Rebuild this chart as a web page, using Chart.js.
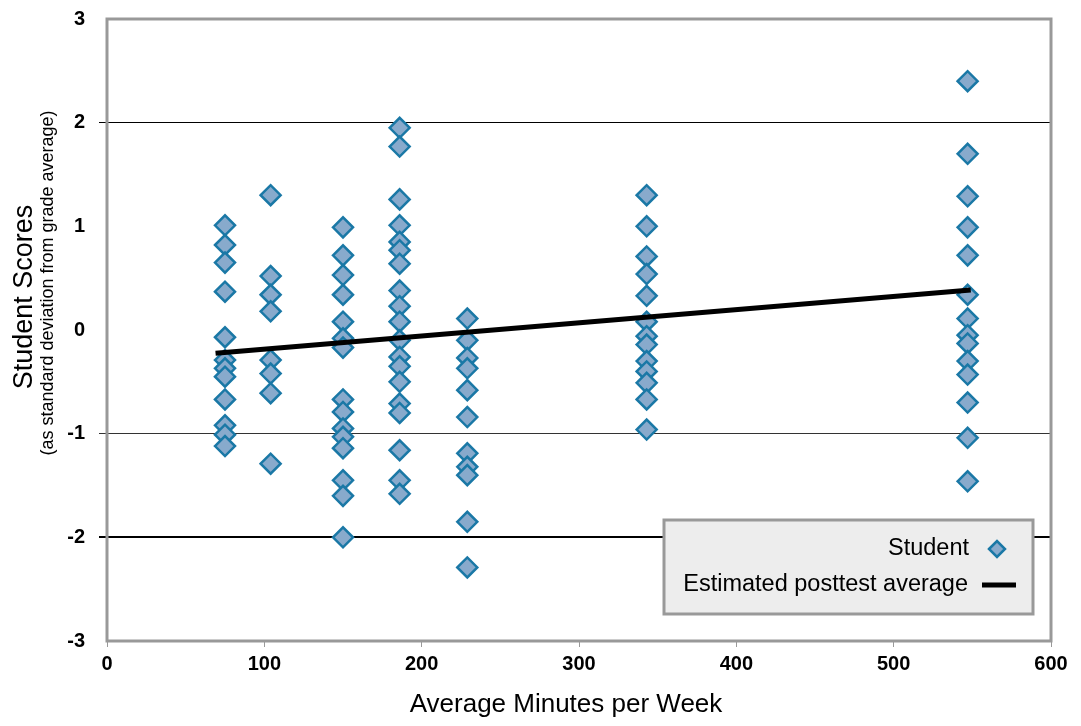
<!DOCTYPE html>
<html>
<head>
<meta charset="utf-8">
<script src="https://cdn.jsdelivr.net/npm/chart.js@4/dist/chart.umd.min.js"></script>
<style>
    html, body { margin: 0; padding: 0; background: #fff; }
    #wrap { width: 1081px; height: 726px; position: relative; }
</style>
</head>
<body>
<div id="wrap"><canvas id="chart" width="1081" height="726"></canvas></div>
<script>
// x positions of each column (average minutes per week)
const minutes = [75, 104, 150, 186, 229, 343, 547];

// student scores per column
const scores75 = [1.01, 0.82, 0.65, 0.37, -0.07, -0.29, -0.37, -0.45, -0.67, -0.92, -1.01, -1.12];
const scores104 = [1.30, 0.52, 0.34, 0.18, -0.29, -0.42, -0.61, -1.29];
const scores150 = [0.99, 0.72, 0.53, 0.34, 0.08, -0.08, -0.17, -0.67, -0.79, -0.95, -1.03, -1.14, -1.45, -1.60, -2.00];
const scores186 = [1.95, 1.77, 1.26, 1.01, 0.85, 0.77, 0.64, 0.38, 0.23, 0.08, -0.10, -0.26, -0.35, -0.50, -0.71, -0.80, -1.16, -1.45, -1.58];
const scores229 = [0.11, -0.10, -0.27, -0.37, -0.58, -0.84, -1.19, -1.32, -1.40, -1.85, -2.29];
const scores343 = [1.30, 1.00, 0.71, 0.54, 0.33, 0.08, -0.06, -0.14, -0.30, -0.40, -0.51, -0.67, -0.96];
const scores547 = [2.40, 1.70, 1.29, 0.99, 0.72, 0.34, 0.11, -0.05, -0.13, -0.30, -0.43, -0.70, -1.04, -1.46];
const columns = [scores75, scores104, scores150, scores186, scores229, scores343, scores547];

// estimated posttest average (regression line end points)
const trendX = [69, 549];
const trendY = [-0.225, 0.386];

const xTicks = [0, 100, 200, 300, 400, 500, 600];
const yTicks = [-3, -2, -1, 0, 1, 2, 3];

const studentPoints = [];
columns.forEach((col, i) => col.forEach(v => studentPoints.push({ x: minutes[i], y: v })));
const trendPoints = trendX.map((x, i) => ({ x, y: trendY[i] }));

const FONT = "'Liberation Sans', Arial, sans-serif";
const MARK_FILL = '#88aacc';
const MARK_LINE = '#1a78a6';

const gridColor = (ctx) => {
    const v = ctx.tick && ctx.tick.value;
    if (v === 2 || v === -2) return '#000';
    if (v === -1) return '#333';
    return 'rgba(0,0,0,0)';
};

const frame = {
    id: 'frame',
    beforeDatasetsDraw(chart) {
        const { ctx, chartArea: a } = chart;
        ctx.save();
        ctx.strokeStyle = '#999';
        ctx.lineWidth = 3;
        ctx.strokeRect(a.left, a.top, a.right - a.left, a.bottom - a.top);
        ctx.restore();
    },
    afterDraw(chart) {
        const { ctx } = chart;
        ctx.save();

        // axis titles
        ctx.fillStyle = '#000';
        ctx.textAlign = 'center';
        ctx.textBaseline = 'middle';
        ctx.font = '26px ' + FONT;
        ctx.fillText('Average Minutes per Week', 566, 705);

        ctx.save();
        ctx.translate(25, 297);
        ctx.rotate(-Math.PI / 2);
        ctx.font = '27px ' + FONT;
        ctx.fillText('Student Scores', 0, 0);
        ctx.restore();

        ctx.save();
        ctx.translate(48, 283);
        ctx.rotate(-Math.PI / 2);
        ctx.font = '18px ' + FONT;
        ctx.fillText('(as standard deviation from grade average)', 0, 0);
        ctx.restore();

        // legend box
        ctx.fillStyle = '#ededed';
        ctx.fillRect(664, 520, 369, 94);
        ctx.strokeStyle = '#999';
        ctx.lineWidth = 3;
        ctx.strokeRect(664, 520, 369, 94);

        ctx.fillStyle = '#000';
        ctx.font = '23.5px ' + FONT;
        ctx.textAlign = 'right';
        ctx.fillText('Student', 969, 549);
        ctx.fillText('Estimated posttest average', 968, 585);

        ctx.beginPath();
        ctx.moveTo(989, 549);
        ctx.lineTo(997, 541);
        ctx.lineTo(1005, 549);
        ctx.lineTo(997, 557);
        ctx.closePath();
        ctx.fillStyle = MARK_FILL;
        ctx.fill();
        ctx.strokeStyle = MARK_LINE;
        ctx.lineWidth = 2.5;
        ctx.stroke();

        ctx.beginPath();
        ctx.moveTo(982, 585);
        ctx.lineTo(1016, 585);
        ctx.strokeStyle = '#000';
        ctx.lineWidth = 5;
        ctx.stroke();

        ctx.restore();
    }
};

new Chart(document.getElementById('chart'), {
    type: 'scatter',
    data: {
        datasets: [
            {
                label: 'Estimated posttest average',
                data: trendPoints,
                showLine: true,
                borderColor: '#000',
                borderWidth: 5,
                pointRadius: 0,
                fill: false,
            },
            {
                label: 'Student',
                data: studentPoints,
                pointStyle: 'rectRot',
                pointRadius: 10,
                pointBackgroundColor: MARK_FILL,
                pointBorderColor: MARK_LINE,
                pointBorderWidth: 2.5,
            },
        ],
    },
    options: {
        responsive: false,
        animation: false,
        layout: { padding: { top: 19, right: 30, left: 0, bottom: 0 } },
        plugins: {
            legend: { display: false },
            tooltip: { enabled: false },
        },
        scales: {
            x: {
                type: 'linear',
                min: 0,
                max: 600,
                afterBuildTicks: (scale) => { scale.ticks = xTicks.map(v => ({ value: v })); },
                afterFit: (scale) => {
                    scale.height = 85;
                    scale.paddingLeft = 0;
                    scale.paddingRight = 0;
                },
                border: { display: false },
                grid: {
                    drawOnChartArea: false,
                    drawTicks: true,
                    tickLength: 6,
                    tickColor: '#999',
                },
                ticks: {
                    color: '#000',
                    padding: 5,
                    font: { family: FONT, size: 20, weight: 'bold' },
                },
            },
            y: {
                type: 'linear',
                min: -3,
                max: 3,
                afterBuildTicks: (scale) => { scale.ticks = yTicks.map(v => ({ value: v })); },
                afterFit: (scale) => {
                    scale.width = 107;
                    scale.paddingTop = 0;
                    scale.paddingBottom = 0;
                },
                border: { display: false },
                grid: {
                    color: gridColor,
                    lineWidth: (ctx) => (ctx.tick && ctx.tick.value === -2 ? 2 : 1),
                    tickColor: gridColor,
                    tickLength: 8,
                },
                ticks: {
                    color: '#000',
                    padding: 14,
                    font: { family: FONT, size: 20, weight: 'bold' },
                },
            },
        },
    },
    plugins: [frame],
});
</script>
</body>
</html>
